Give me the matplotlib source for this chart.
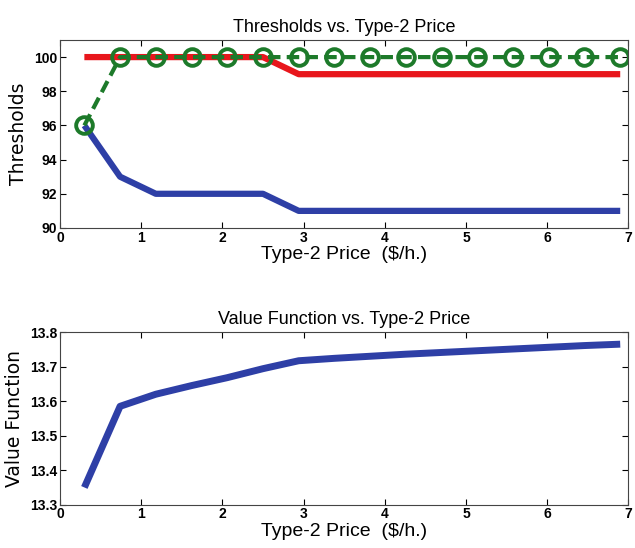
import numpy as np
import matplotlib
matplotlib.use('Agg')
import matplotlib.pyplot as plt

price = [0.3, 0.74, 1.18, 1.62, 2.06, 2.5, 2.94, 3.38, 3.82, 4.26, 4.7, 5.14, 5.58, 6.02, 6.46, 6.9]
thr_low = [96, 93, 92, 92, 92, 92, 91, 91, 91, 91, 91, 91, 91, 91, 91, 91]
thr_high = [100, 100, 100, 100, 100, 100, 99, 99, 99, 99, 99, 99, 99, 99, 99, 99]
thr_green = [96, 100, 100, 100, 100, 100, 100, 100, 100, 100, 100, 100, 100, 100, 100, 100]
value_fn = [13.35, 13.585, 13.62, 13.645, 13.668, 13.694, 13.717, 13.724, 13.73, 13.736,
            13.741, 13.746, 13.751, 13.756, 13.761, 13.765]

plt.rcParams['font.family'] = ['Liberation Sans Narrow', 'Liberation Sans', 'DejaVu Sans']

fig = plt.figure(figsize=(6.35, 5.48), dpi=100)
ax1 = fig.add_axes([0.0945, 0.584, 0.895, 0.343])
ax2 = fig.add_axes([0.0945, 0.079, 0.895, 0.315])

ax1.plot(price, thr_low, color='#2e3fa6', linewidth=4.5, solid_capstyle='butt')
ax1.plot(price, thr_high, color='#e8161c', linewidth=4.5, solid_capstyle='butt')
ax1.plot(price, thr_green, color='#1d7a2a', linewidth=3, linestyle='--', dashes=(3, 1.5),
         marker='o', markersize=12, markerfacecolor='none', markeredgewidth=2.8)
ax1.set_xlim(0, 7)
ax1.set_ylim(90, 101)
ax1.set_yticks([90, 92, 94, 96, 98, 100])
ax1.set_title('Thresholds vs. Type-2 Price', fontsize=13, pad=6)
ax1.set_xlabel('Type-2 Price  ($/h.)', fontsize=14, labelpad=1)
ax1.set_ylabel('Thresholds', fontsize=13.5, family='DejaVu Sans', labelpad=4)

ax2.plot(price, value_fn, color='#2e3fa6', linewidth=5, solid_capstyle='butt')
ax2.set_xlim(0, 7)
ax2.set_ylim(13.3, 13.8)
ax2.set_yticks([13.3, 13.4, 13.5, 13.6, 13.7, 13.8])
ax2.set_title('Value Function vs. Type-2 Price', fontsize=13, pad=6)
ax2.set_xlabel('Type-2 Price  ($/h.)', fontsize=14, labelpad=1)
ax2.set_ylabel('Value Function', fontsize=13.5, family='DejaVu Sans', labelpad=4)

for ax in (ax1, ax2):
    ax.set_xticks(range(0, 8))
    ax.tick_params(direction='in', top=True, right=True, labelsize=10, length=4, pad=2)
    for lab in ax.get_xticklabels() + ax.get_yticklabels():
        lab.set_fontweight('bold')
    for s in ax.spines.values():
        s.set_color('#444444')

fig.savefig('out.png', dpi=100)
